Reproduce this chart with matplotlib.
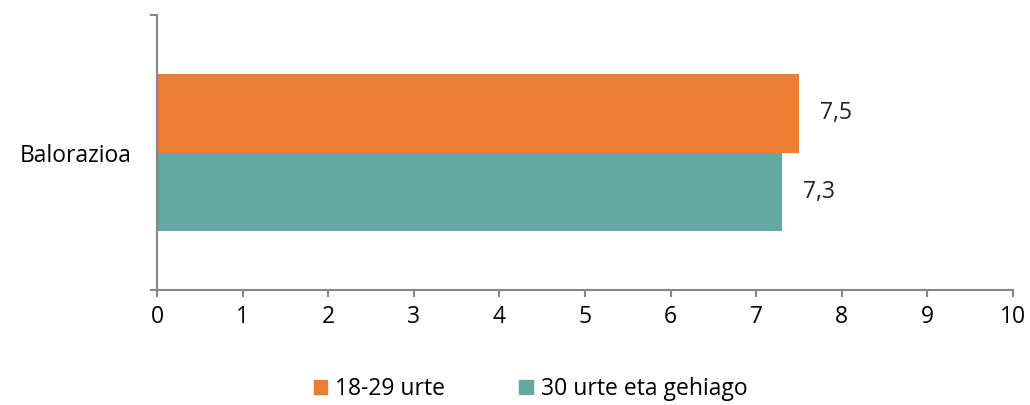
import matplotlib
matplotlib.use("Agg")
import matplotlib.pyplot as plt
from matplotlib.patches import Patch

categories = ["Balorazioa"]
series_names = ["18-29 urte", "30 urte eta gehiago"]
values_young = [7.5]
values_old = [7.3]
value_labels_young = ["7,5"]
value_labels_old = ["7,3"]
xticks = list(range(0, 11))

colors = ["#ED7D31", "#63A8A5"]
axis_color = "#868686"

plt.rcParams['font.family'] = ['Open Sans', 'DejaVu Sans']
fs = 16.5

fig = plt.figure(figsize=(10.30, 4.05), dpi=100)
ax = fig.add_axes([157/1030, 1-290/405, (1013-157)/1030, (290-15)/405])

h = 78.5/275
center = 0.5
ax.barh([center + h/2], values_young, height=h, color=colors[0], label=series_names[0])
ax.barh([center - h/2], values_old, height=h, color=colors[1], label=series_names[1])

for v, lab, y in [(values_young[0], value_labels_young[0], center + h/2),
                  (values_old[0], value_labels_old[0], center - h/2)]:
    ax.annotate(lab, xy=(v, y), xytext=(15, 0), textcoords='offset points',
                va='center', ha='left', fontsize=fs, color='#222222')

ax.set_xlim(0, 10)
ax.set_ylim(0, 1)
ax.set_xticks(xticks)
ax.set_xticklabels([str(t) for t in xticks], fontsize=fs)
ax.tick_params(axis='x', direction='out', length=5, width=1.5, color=axis_color, pad=6)

ax.set_yticks([center])
ax.set_yticklabels(categories, fontsize=fs)
ax.tick_params(axis='y', which='major', length=0, pad=18)
ax.set_yticks([0, 1], minor=True)
ax.tick_params(axis='y', which='minor', direction='out', length=5, width=1.5, color=axis_color)

for s in ['top', 'right']:
    ax.spines[s].set_visible(False)
for s in ['left', 'bottom']:
    ax.spines[s].set_color(axis_color)
    ax.spines[s].set_linewidth(1.5)

handles = [Patch(color=colors[0]), Patch(color=colors[1])]
fig.legend(handles, series_names, loc='center', bbox_to_anchor=(0.515, 1-389/405),
           ncol=2, frameon=False, fontsize=fs, handlelength=0.6, handleheight=0.6,
           handletextpad=0.35, columnspacing=3.2)

fig.savefig("out.png", dpi=100)
